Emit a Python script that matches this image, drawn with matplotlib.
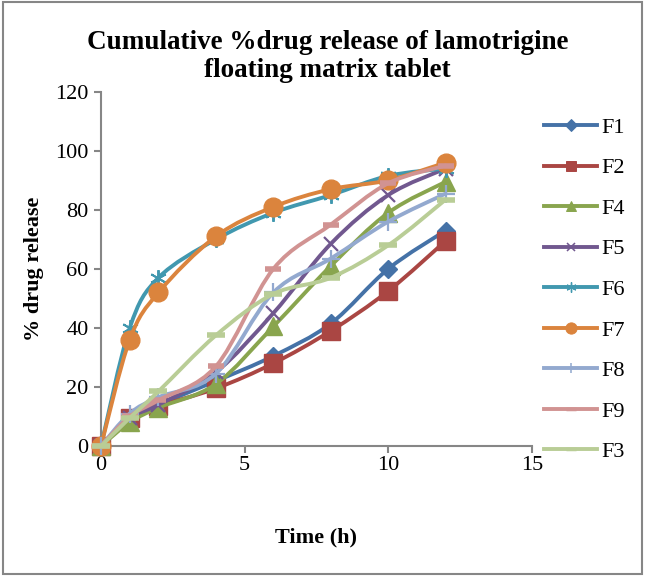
import numpy as np
import matplotlib
matplotlib.use("Agg")
import matplotlib.pyplot as plt
from matplotlib.path import Path
from matplotlib.patches import PathPatch, Rectangle
from matplotlib.lines import Line2D

# release data
time_h = [0, 1, 2, 4, 6, 8, 10, 12]
f1 = [0, 9.5, 14, 22, 30.5, 41.5, 60, 73]
f2 = [0, 9.5, 13.5, 19.5, 28, 39, 52.5, 69.5]
f4 = [0, 8, 13, 21, 40.5, 61, 79, 89.5]
f5 = [0, 9.5, 14, 25, 45, 68.5, 85, 94]
f6 = [0, 40, 57, 70, 79, 85, 91.5, 94]
f7 = [0, 36, 52, 71, 81, 87, 90, 96]
f8 = [0, 11, 16.5, 24.5, 52, 63.5, 76, 85.5]
f9 = [0, 10, 15.5, 27, 60, 75, 89, 95]
f3 = [0, 9.5, 18.5, 37.5, 51.5, 57, 68, 83.5]

labels = ["F1", "F2", "F4", "F5", "F6", "F7", "F8", "F9", "F3"]
series = [f1, f2, f4, f5, f6, f7, f8, f9, f3]
colors = ["#4572A7", "#AA4643", "#89A54E", "#71588F", "#4198AF",
          "#DB843D", "#93A9CF", "#D19392", "#B9CD96"]
markers = ["D", "s", "^", "x", "asterisk", "o", "+", "_", "_"]
msizes = [9.5, 13, 13, 10, 12, 13.5, 13, 12, 13]
mews = [1, 1, 1, 1.6, 1.4, 1, 1.6, 4, 4]

GRAY = "#868686"
SERIF = "Liberation Serif"


def smooth_path(x, y):
    # Catmull-Rom style bezier through the points, like Excel's smoothed line
    pts = np.column_stack([x, y]).astype(float)
    n = len(pts)
    verts = [pts[0]]
    codes = [Path.MOVETO]
    for i in range(n - 1):
        p0 = pts[i - 1] if i > 0 else pts[i]
        p1 = pts[i]
        p2 = pts[i + 1]
        p3 = pts[i + 2] if i + 2 < n else pts[i + 1]
        c1 = p1 + (p2 - p0) / 6.0
        c2 = p2 - (p3 - p1) / 6.0
        verts += [c1, c2, p2]
        codes += [Path.CURVE4] * 3
    return Path(verts, codes)


fig = plt.figure(figsize=(6.45, 5.76), dpi=100)
ax = fig.add_axes([0.1566, 0.2257, 0.668, 0.615])

handles = []
for i, (lab, ys) in enumerate(zip(labels, series)):
    z = 2 + i
    mk = (6, 2, 0) if markers[i] == "asterisk" else markers[i]
    patch = PathPatch(smooth_path(time_h, ys), facecolor="none",
                      edgecolor=colors[i], lw=2.8, zorder=z,
                      transform=ax.transData, capstyle="round")
    ax.add_patch(patch)
    ax.plot(time_h, ys, linestyle="none", marker=mk, ms=msizes[i],
            mfc=colors[i], mec=colors[i], mew=mews[i], zorder=z,
            clip_on=False)
    handles.append(Line2D([], [], color=colors[i], lw=2.8, marker=mk,
                          ms=msizes[i] * 0.6, mfc=colors[i], mec=colors[i],
                          mew=mews[i] * 0.7 if markers[i] != "_" else 2.5))

ax.set_xlim(0, 15)
ax.set_ylim(0, 120)
ax.set_xticks([0, 5, 10, 15])
ax.set_yticks(range(0, 121, 20))
for s in ["top", "right"]:
    ax.spines[s].set_visible(False)
for s in ["left", "bottom"]:
    ax.spines[s].set_color(GRAY)
    ax.spines[s].set_linewidth(1.5)
ax.tick_params(direction="out", length=5, width=1.5, color=GRAY,
               labelsize=16, pad=4)
ax.tick_params(axis="x", pad=2)
for t in ax.get_xticklabels() + ax.get_yticklabels():
    t.set_fontfamily(SERIF)

ax.set_xlabel("Time (h)", fontfamily=SERIF, fontweight="bold", fontsize=16,
              labelpad=38)
ax.set_ylabel("% drug release", fontfamily=SERIF, fontweight="bold",
              fontsize=16, labelpad=8)

fig.text(0.508, 0.902, "Cumulative %drug release of lamotrigine\nfloating matrix tablet",
         ha="center", va="center", fontfamily=SERIF, fontweight="bold",
         fontsize=19.5, linespacing=1.15)

fig.legend(handles=handles, labels=labels, loc="center left",
           bbox_to_anchor=(0.826, 0.497), frameon=False, handlelength=2.4,
           labelspacing=0.9, handletextpad=0.2, borderpad=0,
           prop={"family": SERIF, "size": 16})

fig.patches.append(Rectangle((0.005, 0.004), 0.99, 0.992, transform=fig.transFigure,
                             fill=False, edgecolor=GRAY, lw=1.5))

fig.savefig("out.png", dpi=100)
